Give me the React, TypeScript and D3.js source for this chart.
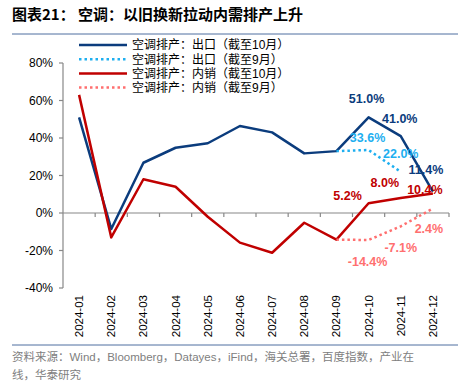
import React from 'react';
import * as d3 from 'd3';

const months = ['2024-01', '2024-02', '2024-03', '2024-04', '2024-05', '2024-06', '2024-07', '2024-08', '2024-09', '2024-10', '2024-11', '2024-12'];
const exportOct = [51, -8.5, 26.8, 34.8, 37.2, 46.4, 43, 31.8, 33, 51.0, 41.0, 11.4];
const exportSep = [null, null, null, null, null, null, null, null, 33, 33.6, 22.0, null];
const domesticOct = [63, -13, 18, 14, -2, -15.8, -21.2, -5.2, -14.2, 5.2, 8.0, 10.4];
const domesticSep = [null, null, null, null, null, null, null, null, -14.2, -14.4, -7.1, 2.4];
const yTicks = [-40, -20, 0, 20, 40, 60, 80];

const seriesNames = ['空调排产：出口（截至10月）', '空调排产：出口（截至9月）', '空调排产：内销（截至10月）', '空调排产：内销（截至9月）'];

const C_DARK = '#0b3c7d';
const C_LIGHT = '#1eaff0';
const C_RED = '#c00000';
const C_PINK = '#ff6f6f';

const W = 474, H = 390;
const left = 63, right = 449, top = 63, bottom = 288;
const MIXED = "'Liberation Sans', 'Noto Sans CJK SC', sans-serif";

export default function App() {
  const x = d3.scaleBand<string>().domain(months).range([left, right]);
  const y = d3.scaleLinear().domain([-40, 80]).range([bottom, top]);
  const cx = (m: string) => (x(m) as number) + x.bandwidth() / 2;

  const line = d3.line<number | null>()
    .defined(d => d !== null)
    .x((_, i) => cx(months[i]))
    .y(d => y(d as number));

  const series = [
    { data: exportOct, color: C_DARK, dash: undefined },
    { data: exportSep, color: C_LIGHT, dash: '2.5 3' },
    { data: domesticOct, color: C_RED, dash: undefined },
    { data: domesticSep, color: C_PINK, dash: '2.5 3' },
  ];

  // data labels: [series index, month index, dx, dy]
  const labels: [number, number, number, number][] = [
    [0, 9, -2, -19], [0, 10, -1, -18], [0, 11, -7, -22],
    [1, 9, -1, -12], [1, 10, 0, -18],
    [2, 9, -21, -8], [2, 10, -16, -15], [2, 11, -8, -4],
    [3, 11, -4, 20], [3, 10, 0, 21], [3, 9, -1, 22],
  ];

  const axisColor = '#888';

  return (
    <svg width={W} height={H} style={{ display: 'block', position: 'absolute', left: 0, top: 0, background: '#fff' }}>
      <text x={12} y={20} fontFamily="'Noto Sans CJK SC', sans-serif" fontWeight="bold" fontSize={15} fill="#000">
        图表21： 空调：以旧换新拉动内需排产上升
      </text>
      <line x1={12} x2={458} y1={34} y2={34} stroke="#4f6fa0" strokeWidth={1} />

      {/* y axis */}
      <line x1={left} x2={left} y1={top} y2={bottom} stroke={axisColor} strokeWidth={1.2} />
      {yTicks.map(t => (
        <g key={t}>
          <line x1={left - 4} x2={left} y1={y(t)} y2={y(t)} stroke={axisColor} strokeWidth={1.2} />
          <text x={53} y={y(t)} dy="0.35em" textAnchor="end" fontFamily="'Liberation Sans', Arial, sans-serif" fontSize={12} fill="#000">
            {t}%
          </text>
        </g>
      ))}

      {/* zero axis */}
      <line x1={left} x2={right} y1={y(0)} y2={y(0)} stroke={axisColor} strokeWidth={1.2} />
      {months.map(m => (
        <line key={m} x1={(x(m) as number) + x.bandwidth()} x2={(x(m) as number) + x.bandwidth()} y1={y(0)} y2={y(0) + 4} stroke={axisColor} strokeWidth={1.2} />
      ))}
      {months.map(m => (
        <text key={m} transform={`translate(${cx(m) + 4},295) rotate(-90)`} textAnchor="end"
          fontFamily="'Liberation Sans', Arial, sans-serif" fontSize={11.5} fill="#000">
          {m}
        </text>
      ))}

      {series.map((s, i) => (
        <path key={i} d={line(s.data) || ''} fill="none" stroke={s.color} strokeWidth={2.5}
          strokeDasharray={s.dash} strokeLinejoin="round" />
      ))}

      {labels.map(([si, mi, dx, dy], k) => {
        const v = series[si].data[mi] as number;
        return (
          <text key={k} x={cx(months[mi]) + dx} y={y(v) + dy} dy="0.35em" textAnchor="middle"
            fontFamily="'Liberation Sans', Arial, sans-serif" fontWeight="bold" fontSize={12.5} fill={series[si].color}>
            {v.toFixed(1)}%
          </text>
        );
      })}

      {/* legend */}
      {seriesNames.map((n, i) => (
        <g key={n}>
          <line x1={79} x2={127} y1={45 + i * 14.2} y2={45 + i * 14.2} stroke={series[i].color} strokeWidth={2.5}
            strokeDasharray={series[i].dash} />
          <text x={132} y={45 + i * 14.2} dy="0.36em" fontFamily={MIXED} fontSize={12} fill="#000">
            {n}
          </text>
        </g>
      ))}

      <line x1={12} x2={458} y1={345} y2={345} stroke="#4f6fa0" strokeWidth={1} />
      <text fontFamily={MIXED} fontSize={11.5} fill="#808080">
        <tspan x={12} y={361}>资料来源：Wind，Bloomberg，Datayes，iFind，海关总署，百度指数，产业在</tspan>
        <tspan x={12} y={379}>线，华泰研究</tspan>
      </text>
    </svg>
  );
}
